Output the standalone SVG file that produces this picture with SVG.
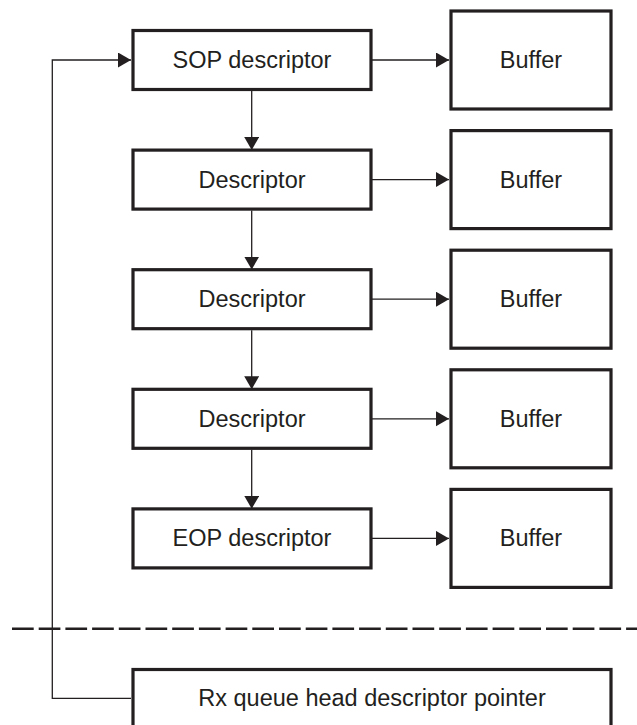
<svg xmlns="http://www.w3.org/2000/svg" width="637" height="725" viewBox="0 0 637 725">
<style>
.box{fill:#fff;stroke:#231f20;stroke-width:3.2}
.lbl{font-family:"Liberation Sans",Arial,sans-serif;font-size:23.5px;fill:#231f20;text-anchor:middle}
.con{fill:none;stroke:#231f20;stroke-width:1.3}
.dash{fill:none;stroke:#231f20;stroke-width:2.6;stroke-dasharray:21.7 5}
</style>
<defs>
<marker id="ah" markerUnits="userSpaceOnUse" markerWidth="14" markerHeight="16" refX="13" refY="7.5" orient="auto">
<path d="M0,0 L13,7.5 L0,15 Z" fill="#231f20"/>
</marker>
</defs>
<rect width="637" height="725" fill="#fff"/>
<g id="connectors">
<line class="con" x1="372" y1="60" x2="449" y2="60" marker-end="url(#ah)"/>
<line class="con" x1="372" y1="179.6" x2="449" y2="179.6" marker-end="url(#ah)"/>
<line class="con" x1="372" y1="299.2" x2="449" y2="299.2" marker-end="url(#ah)"/>
<line class="con" x1="372" y1="418.8" x2="449" y2="418.8" marker-end="url(#ah)"/>
<line class="con" x1="372" y1="538.4" x2="449" y2="538.4" marker-end="url(#ah)"/>
<line class="con" x1="251.7" y1="91" x2="251.7" y2="150" marker-end="url(#ah)"/>
<line class="con" x1="251.7" y1="210.6" x2="251.7" y2="269.6" marker-end="url(#ah)"/>
<line class="con" x1="251.7" y1="330.2" x2="251.7" y2="389.2" marker-end="url(#ah)"/>
<line class="con" x1="251.7" y1="449.8" x2="251.7" y2="508.8" marker-end="url(#ah)"/>
<polyline class="con" points="131,698.3 52.3,698.3 52.3,60 131,60" marker-end="url(#ah)"/>
</g>
<line id="divider" class="dash" x1="12" y1="628.7" x2="637" y2="628.7"/>
<g id="sop">
<rect class="box" x="133" y="30.5" width="238" height="59"/>
<text class="lbl" x="252" y="68">SOP descriptor</text>
</g>
<g id="desc1">
<rect class="box" x="133" y="150.1" width="238" height="59"/>
<text class="lbl" x="252" y="187.6">Descriptor</text>
</g>
<g id="desc2">
<rect class="box" x="133" y="269.7" width="238" height="59"/>
<text class="lbl" x="252" y="307.2">Descriptor</text>
</g>
<g id="desc3">
<rect class="box" x="133" y="389.3" width="238" height="59"/>
<text class="lbl" x="252" y="426.8">Descriptor</text>
</g>
<g id="eop">
<rect class="box" x="133" y="508.9" width="238" height="59"/>
<text class="lbl" x="252" y="546.4">EOP descriptor</text>
</g>
<g id="buf1">
<rect class="box" x="451" y="11" width="160" height="98"/>
<text class="lbl" x="531" y="68">Buffer</text>
</g>
<g id="buf2">
<rect class="box" x="451" y="130.6" width="160" height="98"/>
<text class="lbl" x="531" y="187.6">Buffer</text>
</g>
<g id="buf3">
<rect class="box" x="451" y="250.2" width="160" height="98"/>
<text class="lbl" x="531" y="307.2">Buffer</text>
</g>
<g id="buf4">
<rect class="box" x="451" y="369.8" width="160" height="98"/>
<text class="lbl" x="531" y="426.8">Buffer</text>
</g>
<g id="buf5">
<rect class="box" x="451" y="489.4" width="160" height="98"/>
<text class="lbl" x="531" y="546.4">Buffer</text>
</g>
<g id="rxhead">
<rect class="box" x="133" y="669.5" width="478" height="80"/>
<text class="lbl" x="372" y="706">Rx queue head descriptor pointer</text>
</g>
</svg>
